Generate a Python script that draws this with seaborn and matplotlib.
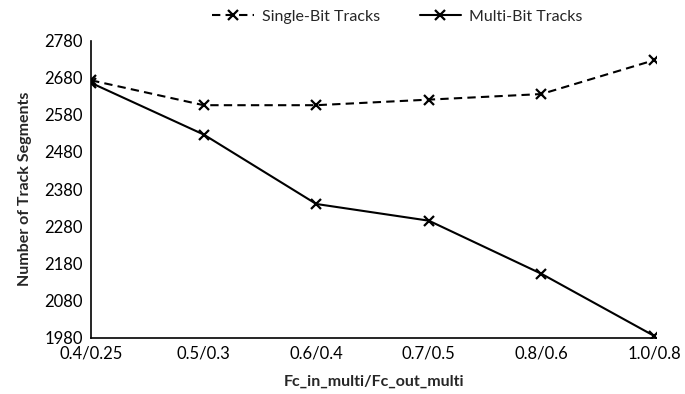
import pandas as pd
import seaborn as sns
import matplotlib.pyplot as plt

# data
ratios = ['0.4/0.25', '0.5/0.3', '0.6/0.4', '0.7/0.5', '0.8/0.6', '1.0/0.8']
single_bit = [2673, 2606, 2606, 2621, 2636, 2727]
multi_bit = [2666, 2527, 2340, 2295, 2152, 1985]
y_ticks = [1980, 2080, 2180, 2280, 2380, 2480, 2580, 2680, 2780]

df = pd.DataFrame({
    'Ratio': ratios * 2,
    'Segments': single_bit + multi_bit,
    'Type': ['Single-Bit Tracks'] * len(ratios) + ['Multi-Bit Tracks'] * len(ratios),
})

sns.set_style('white')
plt.rcParams['font.family'] = ['Lato', 'DejaVu Sans']

fig = plt.figure(figsize=(6.85, 3.94), dpi=100)
ax = fig.add_axes([0.133, 0.143, 0.825, 0.754])

sns.lineplot(data=df, x='Ratio', y='Segments', style='Type',
             style_order=['Single-Bit Tracks', 'Multi-Bit Tracks'],
             dashes={'Single-Bit Tracks': (4, 2.5), 'Multi-Bit Tracks': ''},
             markers={'Single-Bit Tracks': 'x', 'Multi-Bit Tracks': 'x'},
             color='black', linewidth=1.5, markersize=7, markeredgewidth=1.6,
             markeredgecolor='black', markerfacecolor='black',
             sort=False, ax=ax)

ax.set_xlim(0, 5.02)
ax.set_ylim(1980, 2780)
ax.set_yticks(y_ticks)
ax.tick_params(axis='both', direction='in', length=5, width=1, labelsize=12,
               colors='black', pad=6)
for side in ['top', 'right']:
    ax.spines[side].set_visible(False)
for side in ['left', 'bottom']:
    ax.spines[side].set_color('black')
    ax.spines[side].set_linewidth(1.2)

ax.set_xlabel('Fc_in_multi/Fc_out_multi', fontsize=11.5, fontweight='bold', labelpad=9)
ax.set_ylabel('Number of Track Segments', fontsize=11.5, fontweight='bold', labelpad=9)

leg = ax.legend(loc='center', bbox_to_anchor=(0.58, 0.958), bbox_transform=fig.transFigure,
                ncol=2, frameon=False, fontsize=11.5, handlelength=2.6, columnspacing=2.5,
                handletextpad=0.5)
for h in leg.legend_handles:
    h.set_markeredgecolor('black')
    h.set_markeredgewidth(1.6)

fig.savefig('out.png', dpi=100)
